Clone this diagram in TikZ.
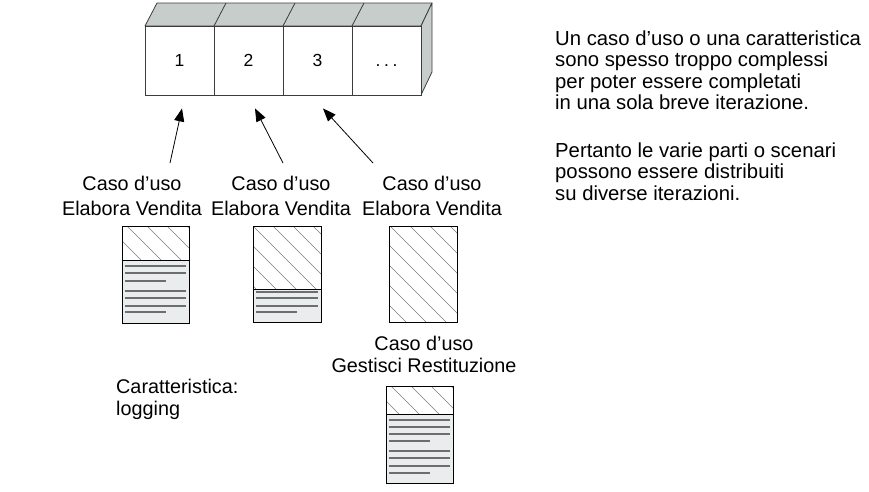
\documentclass[tikz,border=0pt]{standalone}
\usepackage{fontspec}
\setmainfont{Liberation Sans}
\usetikzlibrary{arrows.meta}
\definecolor{facegray}{RGB}{199,205,203}
\definecolor{docfill}{RGB}{233,237,237}
\definecolor{hatchgray}{RGB}{125,125,125}
\definecolor{linegray}{RGB}{110,110,110}
\definecolor{edgegray}{RGB}{60,60,60}
\begin{document}
\begin{tikzpicture}[x=1pt,y=-1pt,
  cell/.style={draw=edgegray, line width=0.8pt, minimum width=69pt, minimum height=69pt, inner sep=0pt, fill=white, font=\fontsize{17.5}{18}\selectfont},
  face/.style={draw=edgegray, line width=0.8pt, fill=facegray, line join=round},
  lbl/.style={align=center, anchor=base, inner sep=0pt},
  docframe/.style={draw=black, line width=0.9pt, inner sep=0pt, fill=none},
  hatch/.style={draw=hatchgray, line width=0.6pt},
  txtline/.style={draw=linegray, line width=1.3pt},
  arr/.style={line width=0.8pt, -{Triangle[length=13pt,width=10pt]}}]
\useasboundingbox (0,0) rectangle (869,491);

% --- iteration blocks ---
\draw[face] (145,26) -- (157,3) -- (432,3) -- (421,26) -- cycle;
\draw[face] (421,26) -- (432,3) -- (432,72) -- (421,95) -- cycle;
\draw[face] (214,26) -- (226,3);
\draw[face] (283,26) -- (295,3);
\draw[face] (352,26) -- (364,3);
\node[cell] (b1) at (179.5,60.5) {1};
\node[cell] (b2) at (248.5,60.5) {2};
\node[cell] (b3) at (317.5,60.5) {3};
\node[cell] (b4) at (386.5,60.5) {\vphantom{1}.\kern3.6pt.\kern3.6pt.};

% --- labels (anchor = baseline of last line) ---
\begin{scope}[font=\fontsize{19.8}{24.5}\selectfont]
\node[lbl] (l1) at (132,215) {Caso d’uso\\Elabora Vendita};
\node[lbl] (l2) at (281,215) {Caso d’uso\\Elabora Vendita};
\node[lbl] (l3) at (432,215) {Caso d’uso\\Elabora Vendita};
\end{scope}
\begin{scope}[font=\fontsize{19.8}{21.8}\selectfont]
\node[lbl] (l4) at (424,372) {Caso d’uso\\Gestisci Restituzione};
\node[lbl, anchor=base west, align=left] (l5) at (116,415) {Caratteristica:\\logging};
\end{scope}

\node[anchor=base west, align=left, inner sep=0pt, font=\fontsize{20.3}{21.5}\selectfont] (note) at (555,200)
 {Un caso d’uso o una caratteristica\\sono spesso troppo complessi\\per poter essere completati\\in una sola breve iterazione.\\[26pt]Pertanto le varie parti o scenari\\possono essere distribuiti\\su diverse iterazioni.};

% --- arrows ---
\coordinate (a1) at (170,163);
\coordinate (a2) at (283,163);
\coordinate (a3) at (373,163);
\draw[arr] (a1) -- ([xshift=2.5pt,yshift=-13pt]b1.south);
\draw[arr] (a2) -- ([xshift=6.5pt,yshift=-13pt]b2.south);
\draw[arr] (a3) -- ([xshift=5.5pt,yshift=-13pt]b3.south);

% --- document 1 ---
\fill[docfill] (122,260) rectangle (189,323);
\begin{scope}
\clip (122,226) rectangle (189,260);
\foreach \k in {-5,...,3} \draw[hatch] ({127+20*\k},226) -- ++(150,150);
\end{scope}
\foreach \yy in {266,273,291,298,306} \draw[txtline] (125,\yy) -- (186,\yy);
\foreach \yy in {281,312} \draw[txtline] (125,\yy) -- (166,\yy);
\draw[line width=0.9pt] (122,260) -- (189,260);
\node[docframe, minimum width=67pt, minimum height=97pt] (d1) at (155.5,274.5) {};

% --- document 2 ---
\fill[docfill] (253,289) rectangle (321,322);
\begin{scope}
\clip (253,226) rectangle (321,289);
\foreach \k in {-6,...,3} \draw[hatch] ({253+20*\k},226) -- ++(150,150);
\end{scope}
\foreach \yy in {292,298,306} \draw[txtline] (256,\yy) -- (318,\yy);
\foreach \yy in {312} \draw[txtline] (256,\yy) -- (297,\yy);
\draw[line width=0.9pt] (253,289) -- (321,289);
\node[docframe, minimum width=68pt, minimum height=96pt] (d2) at (287,274) {};

% --- document 3 ---
\begin{scope}
\clip (389,226) rectangle (457,322);
\foreach \k in {-6,...,3} \draw[hatch] ({390+20*\k},226) -- ++(150,150);
\end{scope}
\node[docframe, minimum width=68pt, minimum height=96pt] (d3) at (423,274) {};

% --- document 4 ---
\fill[docfill] (386,414) rectangle (453,483);
\begin{scope}
\clip (386,386) rectangle (453,414);
\foreach \k in {-3,...,3} \draw[hatch] ({391+20*\k},386) -- ++(150,150);
\end{scope}
\foreach \yy in {420,427,434,451,458,466} \draw[txtline] (389,\yy) -- (450,\yy);
\foreach \yy in {441,473} \draw[txtline] (389,\yy) -- (430,\yy);
\draw[line width=0.9pt] (386,414) -- (453,414);
\node[docframe, minimum width=67pt, minimum height=97pt] (d4) at (419.5,434.5) {};
\end{tikzpicture}
\end{document}
